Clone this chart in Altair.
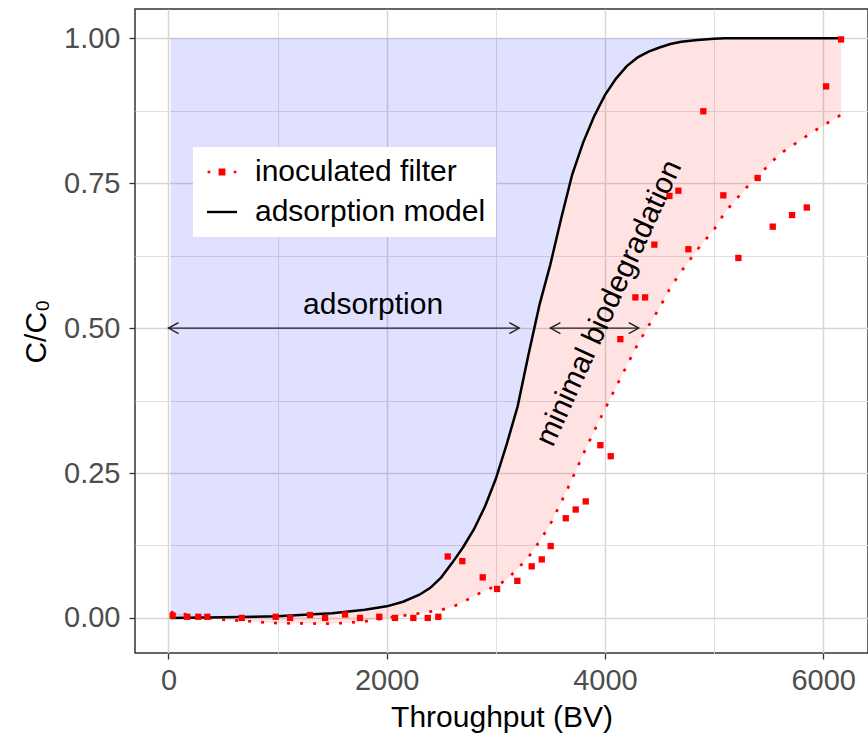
import altair as alt
import pandas as pd

# ---- data ----
curve_x = [20, 500, 1000, 1500, 1800, 2000, 2150, 2300, 2400, 2500, 2600, 2700, 2800, 2900,
           3000, 3100, 3200, 3300, 3400, 3500, 3600, 3700, 3800, 3900, 4000, 4100, 4200,
           4300, 4400, 4500, 4600, 4700, 4850, 5000, 5100, 5300, 5600, 5900, 6164]
model_y = [0.0, 0.001, 0.003, 0.008, 0.014, 0.02, 0.028, 0.04, 0.052, 0.07, 0.095, 0.122,
           0.153, 0.192, 0.24, 0.3, 0.365, 0.455, 0.54, 0.61, 0.69, 0.765, 0.82, 0.865,
           0.902, 0.93, 0.952, 0.967, 0.977, 0.984, 0.99, 0.994, 0.997, 0.999, 1.0, 1.0,
           1.0, 1.0, 1.0]
fit_y = [0.01, -0.003, -0.009, -0.01, -0.006, 0.0, 0.004, 0.008, 0.011, 0.014, 0.019, 0.027,
         0.038, 0.047, 0.055, 0.066, 0.085, 0.105, 0.132, 0.162, 0.2, 0.24, 0.282, 0.322,
         0.36, 0.398, 0.435, 0.472, 0.504, 0.535, 0.57, 0.598, 0.636, 0.67, 0.70, 0.743,
         0.80, 0.838, 0.868]

obs_x = [38, 172, 273, 356, 671, 983, 1114, 1297, 1435, 1618, 1755, 1932, 2076, 2244, 2376,
         2473, 2559, 2693, 2880, 3011, 3197, 3329, 3421, 3503, 3641, 3732, 3824, 3958, 4053,
         4141, 4279, 4368, 4453, 4591, 4673, 4765, 4902, 5085, 5223, 5400, 5538, 5715, 5850,
         6027, 6164]
obs_y = [0.004, 0.002, 0.002, 0.002, 0.0, 0.002, 0.0, 0.005, 0.0, 0.006, 0.0, 0.002, 0.0, 0.0,
         0.0, 0.002, 0.106, 0.098, 0.070, 0.050, 0.064, 0.089, 0.101, 0.124, 0.172, 0.187,
         0.201, 0.298, 0.279, 0.481, 0.553, 0.553, 0.644, 0.728, 0.737, 0.636, 0.874, 0.729,
         0.621, 0.759, 0.675, 0.695, 0.708, 0.917, 0.998]

x_ticks = [0, 1000, 2000, 3000, 4000, 5000, 6000]
y_ticks = [0, 0.125, 0.25, 0.375, 0.5, 0.625, 0.75, 0.875, 1.0]

series_names = ["inoculated filter", "adsorption model"]
series_colors = ["#FF0000", "#000000"]
legend_paths = [
    "M-0.96,-0.09L-0.78,-0.09L-0.78,0.09L-0.96,0.09Z"
    "M-0.23,-0.23L0.23,-0.23L0.23,0.23L-0.23,0.23Z"
    "M0.78,-0.09L0.96,-0.09L0.96,0.09L0.78,0.09Z",
    "M-1,-0.08L1,-0.08L1,0.08L-1,0.08Z",
]

arrow_x1 = [0, 3500]
arrow_x2 = [3215, 4310]
arrow_y = [0.5, 0.5]

label1 = ["adsorption"]
label1_x = [1875]
label1_y = [0.525]
label2 = ["minimal biodegradation"]
label2_x = [4038]
label2_y = [0.543]

FONT = "Liberation Sans, Arial, sans-serif"

curves = pd.DataFrame({"x": curve_x, "model": model_y, "fit": fit_y})
obs = pd.DataFrame({"x": obs_x, "y": obs_y})
arrows = pd.DataFrame({"x1": arrow_x1, "x2": arrow_x2, "y": arrow_y})
lab1 = pd.DataFrame({"t": label1, "x": label1_x, "y": label1_y})
lab2 = pd.DataFrame({"t": label2, "x": label2_x, "y": label2_y})
leg = pd.DataFrame({"series": series_names, "x": [None, None], "y": [None, None]})

xscale = alt.Scale(domain=[-307, 6411], nice=False, zero=False)
yscale = alt.Scale(domain=[-0.0605, 1.0505], nice=False, zero=False)

x_major = "datum.value % 2000 === 0"
y_major = "abs(datum.value * 4 - round(datum.value * 4)) < 0.000001"

x_axis = alt.Axis(
    values=x_ticks, format="d", title="Throughput (BV)",
    labelExpr=f"{x_major} ? datum.label : ''",
    tickOpacity={"condition": {"test": x_major, "value": 1}, "value": 0},
    gridColor={"condition": {"test": x_major, "value": "#D6D6D6"}, "value": "#E0E0E0"},
    gridWidth={"condition": {"test": x_major, "value": 1.5}, "value": 1.0},
    labelPadding=7, titlePadding=7,
)
y_axis = alt.Axis(
    values=y_ticks, title="C/C₀",
    labelExpr=f"{y_major} ? format(datum.value, '.2f') : ''",
    tickOpacity={"condition": {"test": y_major, "value": 1}, "value": 0},
    gridColor={"condition": {"test": y_major, "value": "#D6D6D6"}, "value": "#E0E0E0"},
    gridWidth={"condition": {"test": y_major, "value": 1.5}, "value": 1.0},
    labelPadding=9, titlePadding=12,
)


def X(field="x"):
    return alt.X(f"{field}:Q", scale=xscale, axis=x_axis)


def Y(field="y"):
    return alt.Y(f"{field}:Q", scale=yscale, axis=y_axis)


blue = alt.Chart(curves).mark_area(color="#0000FF", opacity=0.12).encode(
    x=X(), y=Y("model"), y2=alt.datum(1.0)
)
pink = alt.Chart(curves).mark_area(color="#FF0000", opacity=0.11).encode(
    x=X(), y=Y("model"), y2=alt.Y2("fit:Q")
)
fit_line = alt.Chart(curves).mark_line(
    color="#FF0000", strokeWidth=2.7, strokeDash=[3, 10], strokeCap="butt"
).encode(x=X(), y=Y("fit"))
model_line = alt.Chart(curves).mark_line(color="#000000", strokeWidth=2.5).encode(
    x=X(), y=Y("model")
)
points = alt.Chart(obs).mark_point(
    shape="square", filled=True, color="#FF0000", size=40, opacity=1
).encode(x=X(), y=Y())

arrow_line = alt.Chart(arrows).mark_rule(color="#222222", strokeWidth=1.4).encode(
    x=X("x1"), x2=alt.X2("x2:Q"), y=Y()
)
head_left = alt.Chart(arrows).mark_point(
    shape="M2,-1.1L0,0L2,1.1", filled=False, size=100, color="#222222",
    strokeWidth=1.4, opacity=1
).encode(x=X("x1"), y=Y())
head_right = alt.Chart(arrows).mark_point(
    shape="M-2,-1.1L0,0L-2,1.1", filled=False, size=100, color="#222222",
    strokeWidth=1.4, opacity=1
).encode(x=X("x2"), y=Y())

text1 = alt.Chart(lab1).mark_text(
    font=FONT, fontSize=30, color="#000000", align="center", baseline="alphabetic"
).encode(x=X(), y=Y(), text="t:N")
text2 = alt.Chart(lab2).mark_text(
    font=FONT, fontSize=30, color="#000000", align="center", baseline="middle", angle=294.6
).encode(x=X(), y=Y(), text="t:N")

legend = alt.Legend(
    orient="none", legendX=58, legendY=138, title=None, fillColor="white",
    padding=10, symbolSize=900, symbolStrokeWidth=0, symbolOffset=4,
    labelFont=FONT, labelFontSize=30, labelColor="#000000", labelOffset=18,
    rowPadding=10, labelLimit=400,
)
legend_layer = alt.Chart(leg).mark_point(filled=True, opacity=1).encode(
    x=X(), y=Y(),
    color=alt.Color("series:N", scale=alt.Scale(domain=series_names, range=series_colors),
                    legend=legend),
    shape=alt.Shape("series:N", scale=alt.Scale(domain=series_names, range=legend_paths),
                    legend=legend),
)

chart = alt.layer(
    blue, pink, fit_line, model_line, points, arrow_line, head_left, head_right,
    text1, text2, legend_layer
).properties(
    width=733, height=644,
    autosize=alt.AutoSizeParams(type="none"),
    padding={"left": 135, "top": 9, "right": 0, "bottom": 85},
    background="white",
).configure_view(
    stroke="#333333", strokeWidth=1.5
).configure_axis(
    domain=False, tickSize=6, tickWidth=1.3, tickColor="#333333",
    labelFont=FONT, labelFontSize=29, labelColor="#4D4D4D",
    titleFont=FONT, titleFontSize=30, titleColor="#000000", titleFontWeight="normal",
)

chart.save("out.html", embed_options={"renderer": "svg", "actions": False})
